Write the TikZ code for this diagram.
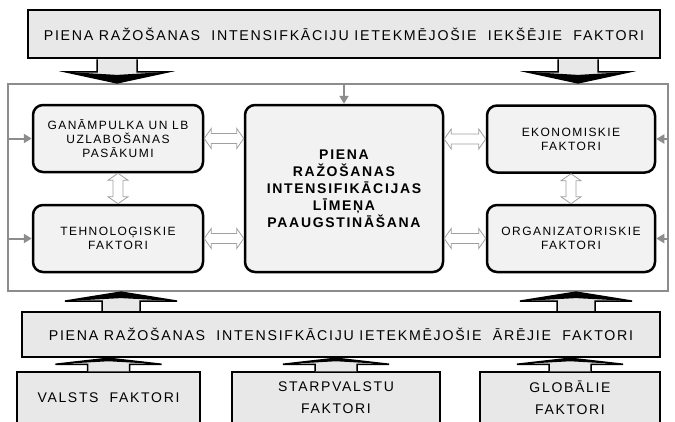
\documentclass[tikz,border=0pt]{standalone}
\usepackage{fontspec}
\setmainfont{Liberation Sans}
\newfontfamily\spc[LetterSpace=12]{Liberation Sans}
\usetikzlibrary{calc,arrows.meta}
\definecolor{topfill}{HTML}{E8E8E8}
\definecolor{inner}{HTML}{F2F2F2}
\definecolor{framec}{HTML}{8C8C8C}
\definecolor{hollowc}{HTML}{A0A0A0}
\tikzset{
  bigbox/.style={draw=black, line width=2.5pt, fill=topfill, font=\spc\fontsize{14.2}{16}\selectfont, align=center, inner sep=0pt},
  rbox/.style={draw=black, line width=2.5pt, fill=inner, rounded corners=10pt, font=\spc\fontsize{12}{14}\selectfont, align=center, inner sep=0pt, minimum width=170pt, minimum height=67pt},
  cbox/.style={rbox, font=\spc\bfseries\fontsize{14}{17}\selectfont, minimum width=198pt, minimum height=167pt},
  lowbox/.style={draw=black, line width=1.2pt, fill=topfill, font=\spc\fontsize{14}{22}\selectfont, align=center, inner sep=0pt, minimum height=52pt},
  frame/.style={draw=framec, line width=2.2pt, inner sep=0pt},
  thinarr/.style={draw=framec, line width=2pt, -{Triangle[length=8pt,width=9pt]}},
  fatarr/.style={draw=black, line width=1.5pt, fill=topfill, line join=miter},
  fathead/.style={fill=black},
  hollow/.style={draw=hollowc, line width=0.8pt, fill=white}
}
% vertical fat arrow: base #1, tip #2, shaft half width #3, head half width #4, head length #5
\newcommand\vfat[5]{%
  \filldraw[fatarr] let \p1=(#1), \p2=(#2), \n1={sign(\y2-\y1)} in
  ({\x2-#3},\y1) -- ({\x2-#3},{\y2-\n1*#5}) -- ({\x2-#4},{\y2-\n1*#5}) -- (\x2,\y2)
  -- ({\x2+#4},{\y2-\n1*#5}) -- ({\x2+#3},{\y2-\n1*#5}) -- ({\x2+#3},\y1);
  \fill[fathead] let \p1=(#1), \p2=(#2), \n1={sign(\y2-\y1)} in
  ({\x2-#4},{\y2-\n1*#5}) -- (\x2,\y2) -- ({\x2+#4},{\y2-\n1*#5}) -- (\x2,{\y2-\n1*(#5-3pt)}) -- cycle;}
% horizontal hollow double arrow between #1 (left) and #2 (right)
\newcommand\hdbl[2]{\filldraw[hollow] let \p1=(#1), \p2=(#2) in
  (\x1,\y1) -- ({\x1+7pt},{\y1+10pt}) -- ({\x1+7pt},{\y1+5pt}) -- ({\x2-7pt},{\y1+5pt})
  -- ({\x2-7pt},{\y1+10pt}) -- (\x2,\y1) -- ({\x2-7pt},{\y1-10pt}) -- ({\x2-7pt},{\y1-5pt})
  -- ({\x1+7pt},{\y1-5pt}) -- ({\x1+7pt},{\y1-10pt}) -- cycle;}
% vertical hollow double arrow between #1 (upper) and #2 (lower)
\newcommand\vdbl[2]{\filldraw[hollow] let \p1=(#1), \p2=(#2) in
  (\x1,\y1) -- ({\x1+10pt},{\y1-7pt}) -- ({\x1+5pt},{\y1-7pt}) -- ({\x1+5pt},{\y2+7pt})
  -- ({\x1+10pt},{\y2+7pt}) -- (\x1,\y2) -- ({\x1-10pt},{\y2+7pt}) -- ({\x1-5pt},{\y2+7pt})
  -- ({\x1-5pt},{\y1-7pt}) -- ({\x1-10pt},{\y1-7pt}) -- cycle;}
\begin{document}
\begin{tikzpicture}[x=1pt,y=-1pt]
\useasboundingbox (0,0) rectangle (675,421);
\clip (0,0) rectangle (675,421);
\fill[white] (0,0) rectangle (675,421);

% frame
\node[frame, minimum width=660pt, minimum height=207pt] (frame) at (338,187.5) {};

% top box
\node[bigbox, minimum width=632pt, minimum height=48pt] (top) at (344,34)
  {PIENA RAŽOŠANAS\ \ INTENSIFKĀCIJU IETEKMĒJOŠIE\ \ IEKŠĒJIE\ \ FAKTORI};

% inner boxes
\node[rbox] (gan) at (118,138.5) {GANĀMPULKA UN LB\\UZLABOŠANAS\\PASĀKUMI};
\node[rbox] (teh) at (118,238.5) {TEHNOLOĢISKIE\\FAKTORI};
\node[cbox] (cen) at (344,188.5) {PIENA\\RAŽOŠANAS\\INTENSIFIKĀCIJAS\\LĪMEŅA\\PAAUGSTINĀŠANA};
\node[rbox, minimum width=168pt] (eko) at (571,139) {EKONOMISKIE\\FAKTORI};
\node[rbox, minimum width=168pt] (org) at (571,238.5) {ORGANIZATORISKIE\\FAKTORI};

% external box
\node[bigbox, minimum width=638pt, minimum height=45pt] (are) at (341,334.5)
  {PIENA RAŽOŠANAS\ \ INTENSIFKĀCIJU IETEKMĒJOŠIE\ \ ĀRĒJIE\ \ FAKTORI};

% bottom boxes
\node[lowbox, minimum width=183pt] (val) at (108.5,398) {VALSTS\ \ FAKTORI};
\node[lowbox, minimum width=208pt] (sta) at (336,398) {STARPVALSTU\\FAKTORI};
\node[lowbox, minimum width=180pt] (glo) at (570,398) {GLOBĀLIE\\FAKTORI};

% helper coordinates for arrow columns
\coordinate (cl) at (117,0);
\coordinate (cr) at (578,0);
\coordinate (ul) at (121,0);
\coordinate (ur) at (576,0);

% fat arrows top -> frame
\vfat{top.south -| cl}{frame.north -| cl}{20pt}{51pt}{11pt}
\vfat{top.south -| cr}{frame.north -| cr}{20pt}{51pt}{11pt}
% fat arrows are -> frame
\vfat{are.north -| ul}{frame.south -| ul}{19pt}{56pt}{9pt}
\vfat{are.north -| ur}{frame.south -| ur}{19pt}{56pt}{9pt}
% fat arrows bottom boxes -> are
\vfat{val.north}{are.south -| val.north}{21pt}{53pt}{6pt}
\vfat{sta.north}{are.south -| sta.north}{21pt}{53pt}{6pt}
\vfat{glo.north}{are.south -| glo.north}{21pt}{53pt}{6pt}

% thin arrows from frame
\draw[thinarr] (frame.west |- gan.west) -- (gan.west);
\draw[thinarr] (frame.west |- teh.west) -- (teh.west);
\draw[thinarr] (frame.east |- eko.east) -- (eko.east);
\draw[thinarr] (frame.east |- org.east) -- (org.east);
\draw[thinarr] (frame.north -| cen.north) -- (cen.north);

% hollow double arrows
\hdbl{gan.east}{cen.west |- gan.east}
\hdbl{teh.east}{cen.west |- teh.east}
\hdbl{cen.east |- eko.west}{eko.west}
\hdbl{cen.east |- org.west}{org.west}
\vdbl{gan.south}{teh.north}
\vdbl{eko.south}{org.north}
\end{tikzpicture}
\end{document}
